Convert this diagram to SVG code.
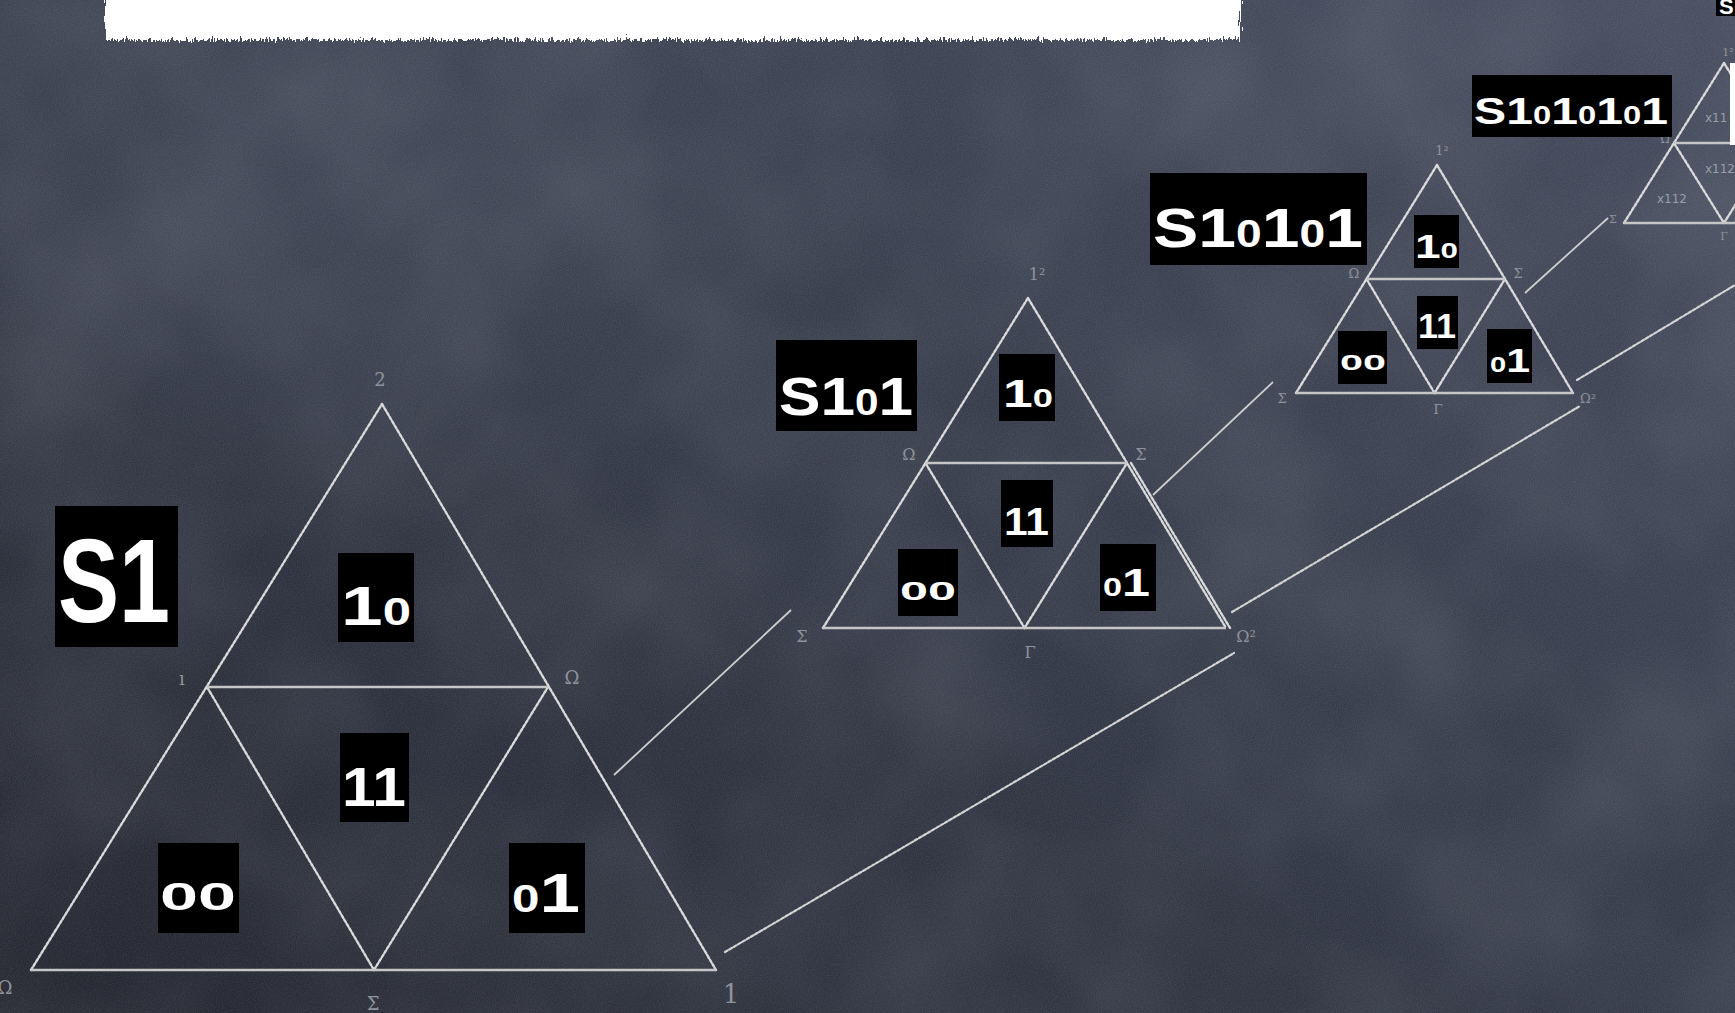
<svg xmlns="http://www.w3.org/2000/svg" width="1735" height="1013" viewBox="0 0 1735 1013">
<defs>
<linearGradient id="bg" x1="1" y1="0" x2="0" y2="1">
<stop offset="0" stop-color="#474d5f"/>
<stop offset="0.45" stop-color="#363b4a"/>
<stop offset="1" stop-color="#23262f"/>
</linearGradient>
<radialGradient id="glow" cx="0.15" cy="0.2" r="0.35">
<stop offset="0" stop-color="#5a6072" stop-opacity="0.35"/>
<stop offset="1" stop-color="#5a6072" stop-opacity="0"/>
</radialGradient>
<filter id="mottle" x="0" y="0" width="100%" height="100%">
<feTurbulence type="fractalNoise" baseFrequency="0.006" numOctaves="3" seed="7"/>
<feColorMatrix type="matrix" values="0 0 0 0 0.7  0 0 0 0 0.72  0 0 0 0 0.8  0.18 0 0 0 -0.06"/>
</filter>
<filter id="grain" x="0" y="0" width="100%" height="100%">
<feTurbulence type="fractalNoise" baseFrequency="0.85" numOctaves="2" seed="3"/>
<feColorMatrix type="matrix" values="0 0 0 0 0.8  0 0 0 0 0.82  0 0 0 0 0.9  0.16 0 0 0 -0.05"/>
</filter>
<filter id="rough" x="-5%" y="-30%" width="110%" height="160%">
<feTurbulence type="turbulence" baseFrequency="0.35 0.03" numOctaves="2" seed="11" result="n"/>
<feDisplacementMap in="SourceGraphic" in2="n" scale="12" xChannelSelector="R" yChannelSelector="G"/>
</filter>
<style>
.side{stroke:#dadada;stroke-width:2.4;fill:none;stroke-dasharray:3 2;stroke-linecap:round}
.flat{stroke:#c6c6c6;stroke-width:2.6;fill:none}
.conn{stroke:#cdcdcd;stroke-width:1.8;fill:none}
.connz{stroke:#d4d4d4;stroke-width:2.2;fill:none;stroke-dasharray:3 2;stroke-linecap:round}
.box{fill:#000}
.lbl{font-family:"Liberation Sans","DejaVu Sans",sans-serif;font-weight:bold;fill:#fff}
.z{font-size:0.68em}
.vx{font-family:"DejaVu Serif",serif;fill:#8f939c;text-anchor:middle}
.small{font-family:"DejaVu Sans",sans-serif;fill:#9a9ea6}
</style>
</defs>

<rect width="1735" height="1013" fill="url(#bg)"/>
<rect width="1735" height="1013" fill="url(#glow)"/>
<rect width="1735" height="1013" filter="url(#mottle)"/>
<rect width="1735" height="1013" filter="url(#grain)"/>

<g id="banner">
<rect x="103" y="-20" width="1134" height="57" fill="#fff" filter="url(#rough)"/>
</g>

<g id="connectors">
<line class="conn" x1="614" y1="775" x2="791" y2="610"/>
<line class="connz" x1="725" y1="952" x2="1234" y2="653"/>
<line class="conn" x1="1153" y1="495" x2="1273" y2="382"/>
<line class="connz" x1="1232" y1="612" x2="1580" y2="406"/>
<line class="conn" x1="1525" y1="293" x2="1608" y2="218"/>
<line class="connz" x1="1577" y1="380" x2="1735" y2="285"/>
</g>

<g id="stage-s1">
<line class="side" x1="31" y1="970" x2="382" y2="404"/>
<line class="side" x1="382" y1="404" x2="716" y2="970"/>
<line class="side" x1="207" y1="687" x2="374" y2="970"/>
<line class="side" x1="374" y1="970" x2="548" y2="687"/>
<line class="flat" x1="207" y1="687" x2="548" y2="687"/>
<line class="flat" x1="31" y1="970" x2="716" y2="970"/>
<text class="vx" x="380" y="386" font-size="18">2</text>
<text class="vx" x="182" y="685" font-size="18">ı</text>
<text class="vx" x="572" y="684" font-size="18">Ω</text>
<text class="vx" x="5" y="994" font-size="18">Ω</text>
<text class="vx" x="373" y="1010" font-size="18">Σ</text>
<text class="vx" x="731" y="1003" font-size="26" fill="#14161b">1</text>
<g id="s1-title"><rect class="box" x="55" y="506" width="123" height="141"/><text class="lbl" x="58" y="622" font-size="118" textLength="112" lengthAdjust="spacingAndGlyphs">S1</text></g>
<g id="s1-10"><rect class="box" x="338" y="553" width="76" height="89"/><text class="lbl" x="341" y="625" font-size="56" textLength="70" lengthAdjust="spacingAndGlyphs">1<tspan class="z">0</tspan></text></g>
<g id="s1-11"><rect class="box" x="340" y="733" width="69" height="89"/><text class="lbl" x="342" y="806" font-size="56" textLength="64" lengthAdjust="spacingAndGlyphs">11</text></g>
<g id="s1-00"><rect class="box" x="158" y="843" width="81" height="90"/><text class="lbl" x="160" y="910" font-size="56" textLength="76" lengthAdjust="spacingAndGlyphs"><tspan class="z">0</tspan><tspan class="z">0</tspan></text></g>
<g id="s1-01"><rect class="box" x="509" y="843" width="76" height="90"/><text class="lbl" x="512" y="912" font-size="56" textLength="68" lengthAdjust="spacingAndGlyphs"><tspan class="z">0</tspan>1</text></g>
</g>

<g id="stage-s101">
<line class="side" x1="823" y1="628" x2="1028" y2="298"/>
<line class="side" x1="1028" y1="298" x2="1226" y2="628"/>
<line class="side" x1="1131" y1="463" x2="1230" y2="628"/>
<line class="side" x1="925.5" y1="463" x2="1024.5" y2="628"/>
<line class="side" x1="1024.5" y1="628" x2="1127" y2="463"/>
<line class="flat" x1="925.5" y1="463" x2="1127" y2="463"/>
<line class="flat" x1="823" y1="628" x2="1226" y2="628"/>
<text class="vx" x="1037" y="280" font-size="16">1²</text>
<text class="vx" x="909" y="460" font-size="16">Ω</text>
<text class="vx" x="1141" y="460" font-size="16">Σ</text>
<text class="vx" x="802" y="642" font-size="16">Σ</text>
<text class="vx" x="1030" y="658" font-size="16">Γ</text>
<text class="vx" x="1246" y="642" font-size="16">Ω²</text>
<g id="s101-title"><rect class="box" x="776" y="340" width="141" height="91"/><text class="lbl" x="779" y="415" font-size="54" textLength="134" lengthAdjust="spacingAndGlyphs">S1<tspan class="z">0</tspan>1</text></g>
<g id="s101-10"><rect class="box" x="999" y="354" width="56" height="67"/><text class="lbl" x="1003" y="407" font-size="38" textLength="50" lengthAdjust="spacingAndGlyphs">1<tspan class="z">0</tspan></text></g>
<g id="s101-11"><rect class="box" x="1001" y="480" width="52" height="67"/><text class="lbl" x="1004" y="535" font-size="38" textLength="45" lengthAdjust="spacingAndGlyphs">11</text></g>
<g id="s101-00"><rect class="box" x="898" y="549" width="60" height="67"/><text class="lbl" x="900" y="600" font-size="38" textLength="56" lengthAdjust="spacingAndGlyphs"><tspan class="z">0</tspan><tspan class="z">0</tspan></text></g>
<g id="s101-01"><rect class="box" x="1100" y="544" width="56" height="67"/><text class="lbl" x="1103" y="596" font-size="38" textLength="47" lengthAdjust="spacingAndGlyphs"><tspan class="z">0</tspan>1</text></g>
</g>

<g id="stage-s10101">
<line class="side" x1="1296" y1="393" x2="1437" y2="165"/>
<line class="side" x1="1437" y1="165" x2="1573" y2="393"/>
<line class="side" x1="1366.5" y1="279" x2="1434.5" y2="393"/>
<line class="side" x1="1434.5" y1="393" x2="1505" y2="279"/>
<line class="flat" x1="1366.5" y1="279" x2="1505" y2="279"/>
<line class="flat" x1="1296" y1="393" x2="1573" y2="393"/>
<text class="vx" x="1442" y="155" font-size="13">1²</text>
<text class="vx" x="1354" y="278" font-size="13">Ω</text>
<text class="vx" x="1518" y="278" font-size="13">Σ</text>
<text class="vx" x="1282" y="403" font-size="13">Σ</text>
<text class="vx" x="1438" y="414" font-size="13">Γ</text>
<text class="vx" x="1588" y="403" font-size="13">Ω²</text>
<g id="s10101-title"><rect class="box" x="1150" y="173" width="217" height="92"/><text class="lbl" x="1153" y="247" font-size="56" textLength="210" lengthAdjust="spacingAndGlyphs">S1<tspan class="z">0</tspan>1<tspan class="z">0</tspan>1</text></g>
<g id="s10101-10"><rect class="box" x="1414" y="215" width="45" height="53"/><text class="lbl" x="1415" y="258" font-size="33" textLength="43" lengthAdjust="spacingAndGlyphs">1<tspan class="z">0</tspan></text></g>
<g id="s10101-11"><rect class="box" x="1417" y="296" width="41" height="53"/><text class="lbl" x="1418" y="338" font-size="35" textLength="38" lengthAdjust="spacingAndGlyphs">11</text></g>
<g id="s10101-00"><rect class="box" x="1338" y="331" width="49" height="53"/><text class="lbl" x="1340" y="370" font-size="33" textLength="46" lengthAdjust="spacingAndGlyphs"><tspan class="z">0</tspan><tspan class="z">0</tspan></text></g>
<g id="s10101-01"><rect class="box" x="1487" y="329" width="45" height="54"/><text class="lbl" x="1490" y="372" font-size="33" textLength="40" lengthAdjust="spacingAndGlyphs"><tspan class="z">0</tspan>1</text></g>
</g>

<g id="stage-s1010101">
<line class="side" x1="1624" y1="223" x2="1724" y2="63"/>
<line class="side" x1="1724" y1="63" x2="1824" y2="223"/>
<line class="side" x1="1674" y1="143" x2="1724" y2="223"/>
<line class="side" x1="1724" y1="223" x2="1774" y2="143"/>
<line class="flat" x1="1674" y1="143" x2="1774" y2="143"/>
<line class="flat" x1="1624" y1="223" x2="1824" y2="223"/>
<text class="vx" x="1728" y="56" font-size="11">1²</text>
<text class="vx" x="1665" y="143" font-size="11">Ω</text>
<text class="vx" x="1613" y="223" font-size="11">Σ</text>
<text class="vx" x="1724" y="240" font-size="11">Γ</text>
<text class="small" x="1705" y="122" font-size="12">x11</text>
<text class="small" x="1705" y="173" font-size="12">x112</text>
<text class="small" x="1657" y="203" font-size="12">x112</text>
<rect x="1730" y="63" width="10" height="82" fill="#fff"/>
<g id="s1010101-title"><rect class="box" x="1472" y="75" width="200" height="62"/><text class="lbl" x="1474" y="124" font-size="37" textLength="194" lengthAdjust="spacingAndGlyphs">S1<tspan class="z">0</tspan>1<tspan class="z">0</tspan>1<tspan class="z">0</tspan>1</text></g>
</g>

<g id="next-title">
<rect class="box" x="1716" y="0" width="25" height="16"/>
<text class="lbl" x="1719" y="14" font-size="22">S</text>
</g>
</svg>
